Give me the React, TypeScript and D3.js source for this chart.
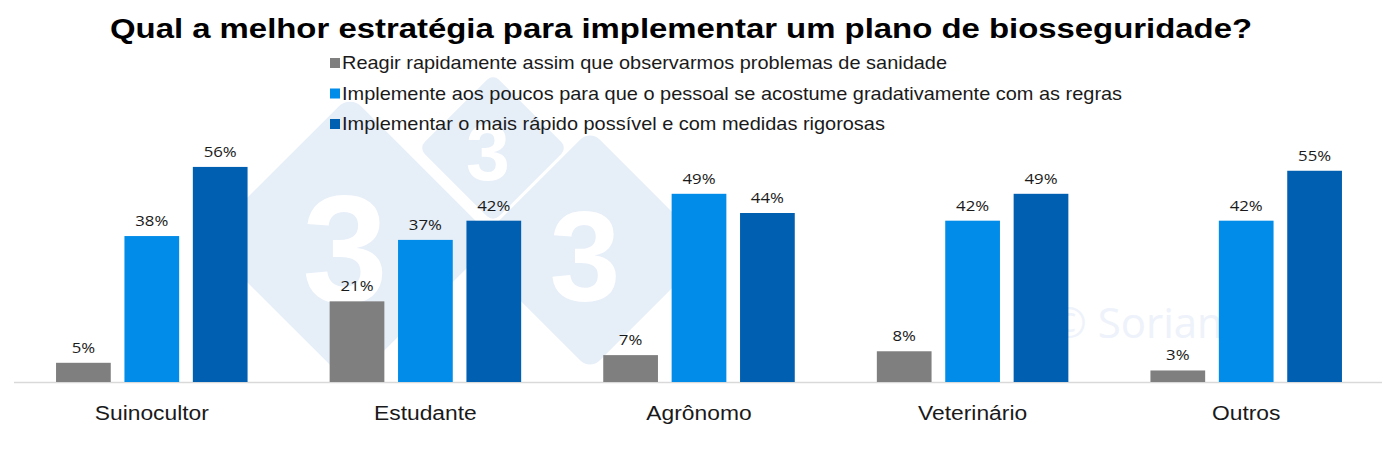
import React from "react";
import * as d3 from "d3";

const categories = ["Suinocultor", "Estudante", "Agrônomo", "Veterinário", "Outros"];
const seriesNames = [
  "Reagir rapidamente assim que observarmos problemas de sanidade",
  "Implemente aos poucos para que o pessoal se acostume gradativamente com as regras",
  "Implementar o mais rápido possível e com medidas rigorosas",
];
const reagir = [5, 21, 7, 8, 3];
const aosPoucos = [38, 37, 49, 42, 42];
const rapido = [56, 42, 44, 49, 55];
const colors = ["#7f7f7f", "#008ce8", "#005fb0"];

const W = 1400;
const H = 459;
const ARIAL = "Arial, Liberation Sans, sans-serif";

export default function App() {
  const series = [reagir, aosPoucos, rapido];
  const x0 = d3.scaleBand<string>().domain(categories).range([15, 1383]).padding(0);
  const step = x0.step();
  const x1 = d3
    .scaleBand<number>()
    .domain([0, 1, 2])
    .range([step * 0.15, step * 0.85])
    .paddingInner(0.2)
    .paddingOuter(0);
  const y = d3.scaleLinear().domain([0, 56.5]).range([382, 165]);

  const diamonds = [
    { cx: 350, cy: 240, s: 205 },
    { cx: 493, cy: 148, s: 105 },
    { cx: 590, cy: 250, s: 170 },
  ];

  return (
    <svg width={W} height={H} style={{ display: "block", position: "absolute", left: 0, top: 0 }}>
      <rect width={W} height={H} fill="#ffffff" />
      {/* watermark */}
      <g>
        {diamonds.map((d, i) => (
          <g key={i} transform={`translate(${d.cx},${d.cy}) rotate(45)`}>
            <rect x={-d.s / 2} y={-d.s / 2} width={d.s} height={d.s} rx={d.s * 0.08} fill="#e6eef8" />
          </g>
        ))}
        {diamonds.map((d, i) => (
          <text
            key={"t" + i}
            x={d.cx - 5}
            y={d.cy + d.s * 0.3}
            textAnchor="middle"
            fontFamily={ARIAL}
            fontWeight="bold"
            fontSize={d.s * 0.75}
            fill="#ffffff"
          >
            3
          </text>
        ))}
        <text x={1150} y={338} textAnchor="middle" fontFamily="Open Sans, sans-serif" fontSize={42} fill="#eef2fa">
          © Soriano
        </text>
      </g>

      <g transform="translate(681,38) scale(1.175,1)">
        <text x={0} y={0} textAnchor="middle" fontFamily={ARIAL} fontWeight="bold" fontSize={28} fill="#000">
          Qual a melhor estratégia para implementar um plano de biosseguridade?
        </text>
      </g>

      {seriesNames.map((name, i) => (
        <g key={name} transform={`translate(330,${63 + i * 30.5})`}>
          <rect x={0} y={-5} width={10} height={10} fill={colors[i]} />
          <g transform="translate(12,6) scale(1.14,1)">
            <text x={0} y={0} fontFamily={ARIAL} fontSize={17.5} fill="#1a1a1a">
              {name}
            </text>
          </g>
        </g>
      ))}

      <line x1={14} x2={1382} y1={382.5} y2={382.5} stroke="#d9d9d9" strokeWidth={1.5} />

      {categories.map((c, ci) => (
        <g key={c} transform={`translate(${x0(c)},0)`}>
          {series.map((vals, si) => {
            const bx = x1(si)!;
            const bw = x1.bandwidth();
            const top = y(vals[ci]);
            return (
              <g key={si}>
                <rect x={bx} y={top} width={bw} height={y(0) - top} fill={colors[si]} />
                <g transform={`translate(${bx + bw / 2},${top - 10}) scale(1.12,1)`}>
                  <text
                    x={0}
                    y={0}
                    textAnchor="middle"
                    fontFamily="Open Sans, DejaVu Sans, sans-serif"
                    fontSize={15}
                    fill="#1a1a1a"
                  >
                    {vals[ci]}%
                  </text>
                </g>
              </g>
            );
          })}
          <g transform={`translate(${step / 2},420) scale(1.17,1)`}>
            <text x={0} y={0} textAnchor="middle" fontFamily={ARIAL} fontSize={19.5} fill="#1a1a1a">
              {c}
            </text>
          </g>
        </g>
      ))}
    </svg>
  );
}
